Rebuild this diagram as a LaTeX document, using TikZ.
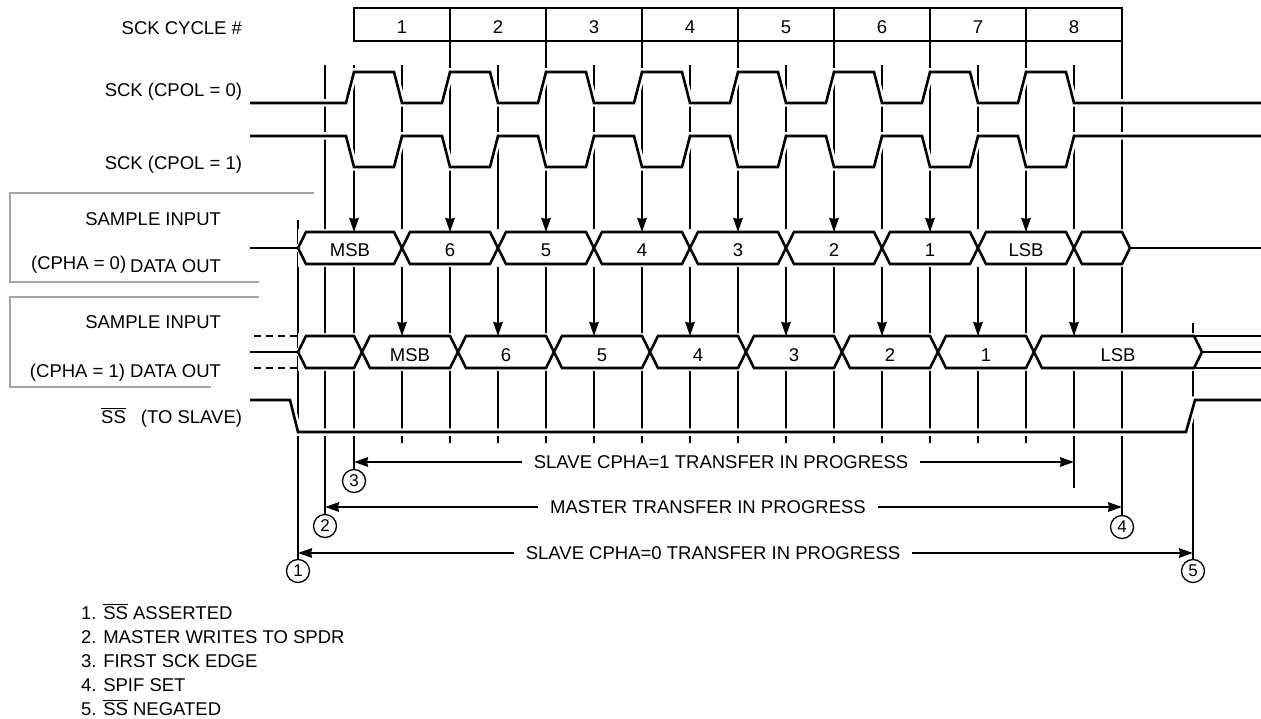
\documentclass[tikz,border=0pt]{standalone}
\usepackage{fontspec}
\setmainfont{Liberation Sans}
\usetikzlibrary{arrows.meta}

\begin{document}
\begin{tikzpicture}[x=1pt,y=-1pt,>={Stealth[length=14pt,width=9.5pt,inset=1pt]},line width=2pt,font=\fontsize{18.5}{22}\selectfont]
\tikzstyle{wire}=[line width=2.6pt]
\tikzstyle{sig}=[wire,preaction={draw=white,line width=7.5pt}]
\tikzstyle{cell}=[wire,fill=white]
\tikzstyle{cyc}=[draw,line width=2.8pt,minimum width=96pt,minimum height=33pt,text height=19pt,text depth=0pt]
\tikzstyle{lbl}=[anchor=base east,inner sep=0pt]
\tikzstyle{frame}=[draw=black!35,line width=1.6pt]
\tikzstyle{num}=[draw,circle,line width=1.3pt,minimum size=23pt,inner sep=0pt,font=\fontsize{17}{20}\selectfont]
\tikzstyle{span}=[inner xsep=11pt,inner ysep=0pt]
\tikzstyle{note}=[anchor=base west,inner sep=0pt]

\useasboundingbox (0,0) rectangle (1261,719);

% cycle numbers
\foreach \i in {1,...,8}
  \node[cyc] (c\i) at ({306+96*\i},24.5) {\i};

% signal names
\node[lbl] (cyc) at (243,35) {SCK CYCLE \#};
\node[lbl] (sck0) at (243,97) {SCK (CPOL = 0)};
\node[lbl] (sck1) at (243,170) {SCK (CPOL = 1)};
\node[lbl] (smp0) at (222,226) {SAMPLE INPUT};
\node[lbl] (out0) at (222,273) {DATA OUT};
\node[anchor=base east,inner sep=0pt] (cpha0) at (out0.base west) [yshift=3pt,xshift=-2pt] {(CPHA = 0)};
\node[lbl] (smp1) at (222,329) {SAMPLE INPUT};
\node[lbl] (out1) at (222,377) {(CPHA = 1) DATA OUT};
\node[lbl] (ss) at (243,423) {$\overline{\mbox{SS}}$\hspace{15pt}(TO SLAVE)};

\draw[frame] (314,193) -- (10,193) -- (10,282) -- (259,282);
\draw[frame] (259,297) -- (10,297) -- (10,387) -- (211,387);

% circled markers
\node[num] (m1) at (298,571) {1};
\node[num] (m2) at (325,526) {2};
\node[num] (m3) at (354,481) {3};
\node[num] (m4) at (1122,527) {4};
\node[num] (m5) at (1193,571) {5};
\coordinate (m6) at (1074,488);

% grid
\foreach \k in {0,...,6} {
  \draw ({450+96*\k},41) -- ({450+96*\k},443);
  \draw ({402+96*\k},65) -- ({402+96*\k},443);
}
\draw (1074,65) -- (m6);
\draw (354,65) -- (m3);
\draw (325,65) -- (m2);
\draw (298,220) -- (m1);
\draw (1122,41) -- (m4);
\draw (1193,323) -- (m5);

% clocks and select
\draw[sig] (250,103) \foreach \k in {0,...,7} {-- ({346+96*\k},103) -- ({354+96*\k},72) -- ({394+96*\k},72) -- ({402+96*\k},103)} -- (1261,103);
\draw[sig] (250,136) \foreach \k in {0,...,7} {-- ({346+96*\k},136) -- ({354+96*\k},167) -- ({394+96*\k},167) -- ({402+96*\k},136)} -- (1261,136);
\draw[sig] (250,400) -- (290,400) -- (298,432) -- (1186,432) -- (1195,400) -- (1261,400);

% CPHA = 0 data
\fill[white] (298,229) rectangle (1130,267);
\draw[sig] (250,248) -- (298,248);
\draw[sig] (1130,248) -- (1261,248);
\foreach \a/\b/\t [count=\i] in {298/402/MSB,402/498/6,498/594/5,594/690/4,690/786/3,786/882/2,882/978/1,978/1074/LSB,1074/1130/{}} {
  \draw[cell] (\a,248) -- ({\a+8},232) -- ({\b-8},232) -- (\b,248) -- ({\b-8},264) -- ({\a+8},264) -- cycle;
  \node[anchor=base] (da\i) at ({(\a+\b)/2},257) {\t};
}

% CPHA = 1 data
\fill[white] (298,333) rectangle (1202,371);
\draw[wire,dash pattern=on 7pt off 5pt] (254,336) -- (302,336);
\draw[wire,dash pattern=on 7pt off 5pt] (254,368) -- (302,368);
\draw[sig] (250,352) -- (298,352);
\foreach \a/\b/\t [count=\i] in {298/362/{},362/458/MSB,458/554/6,554/650/5,650/746/4,746/842/3,842/938/2,938/1034/1,1034/1202/LSB} {
  \draw[cell] (\a,352) -- ({\a+8},336) -- ({\b-8},336) -- (\b,352) -- ({\b-8},368) -- ({\a+8},368) -- cycle;
  \node[anchor=base] (db\i) at ({(\a+\b)/2},361) {\t};
}
\draw[wire] (1194,336) -- (1261,336);
\draw[wire] (1202,352) -- (1261,352);
\draw[wire] (1194,368) -- (1261,368);

% sampling edges
\foreach \k in {0,...,7} {
  \draw[->] ({354+96*\k},205) -- ({354+96*\k},232);
  \draw[->] ({402+96*\k},309) -- ({402+96*\k},336);
}

% transfers
\node[span] (x3) at (721,462) {SLAVE CPHA=1 TRANSFER IN PROGRESS};
\node[span] (x2) at (708,507) {MASTER TRANSFER IN PROGRESS};
\node[span] (x1) at (713,553) {SLAVE CPHA=0 TRANSFER IN PROGRESS};
\draw[->] (x3) -- (x3 -| m3);
\draw[->] (x3) -- (x3 -| m6);
\draw[->] (x2) -- (x2 -| m2);
\draw[->] (x2) -- (x2 -| m4);
\draw[->] (x1) -- (x1 -| m1);
\draw[->] (x1) -- (x1 -| m5);

% notes
\foreach \t [count=\i] in {{$\overline{\mbox{SS}}$ ASSERTED},{MASTER WRITES TO SPDR},{FIRST SCK EDGE},{SPIF SET},{$\overline{\mbox{SS}}$ NEGATED}}
  \node[note] (n\i) at (80,{595+24*\i}) {\i. \t};
\end{tikzpicture}
\end{document}
